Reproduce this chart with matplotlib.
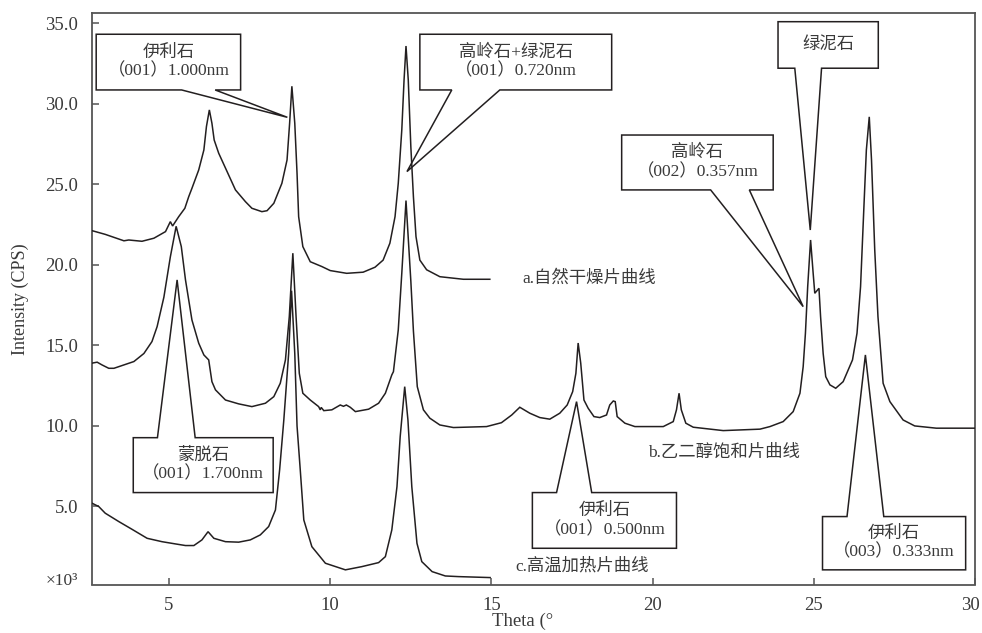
import matplotlib
matplotlib.use("Agg")
import matplotlib.pyplot as plt
import matplotlib.transforms as mtransforms
from matplotlib.patches import Polygon

# ---------------- data ----------------
theta_a = [2.61, 3.02, 3.60, 3.75, 4.16, 4.53, 4.89, 5.04, 5.11, 5.30, 5.49, 5.61, 5.71, 5.92,
           6.08, 6.16, 6.25, 6.33, 6.40, 6.54, 6.80, 7.06, 7.37, 7.57, 7.88, 8.04, 8.25, 8.50,
           8.66, 8.74, 8.81, 8.90, 8.97, 9.02, 9.15, 9.38, 9.74, 10.00, 10.51, 11.02, 11.39,
           11.64, 11.85, 12.01, 12.11, 12.22, 12.29, 12.35, 12.42, 12.50, 12.58, 12.66, 12.78,
           12.99, 13.40, 14.13, 14.95]
cps_a = [22.13, 21.90, 21.50, 21.55, 21.47, 21.66, 22.07, 22.69, 22.42, 23.00, 23.52, 24.24, 24.76,
         25.90, 27.14, 28.60, 29.63, 28.80, 27.76, 26.94, 25.80, 24.66, 23.93, 23.52, 23.31, 23.37,
         23.83, 25.07, 26.52, 28.80, 31.10, 28.80, 25.70, 23.00, 21.14, 20.20, 19.90, 19.65, 19.48,
         19.55, 19.86, 20.30, 21.35, 23.00, 25.07, 28.40, 31.50, 33.60, 31.50, 27.35, 24.24, 21.76,
         20.30, 19.70, 19.27, 19.11, 19.11]

theta_b = [2.61, 2.77, 2.92, 3.13, 3.29, 3.60, 3.91, 4.22, 4.47, 4.63, 4.84, 5.04, 5.22, 5.38,
           5.51, 5.71, 5.92, 6.08, 6.23, 6.33, 6.44, 6.75, 7.16, 7.57, 7.99, 8.25, 8.45, 8.61,
           8.73, 8.84, 8.94, 9.04, 9.15, 9.38, 9.64, 9.69, 9.72, 9.80, 10.05, 10.31, 10.41, 10.50,
           10.62, 10.78, 11.19, 11.50, 11.71, 11.91, 11.96, 12.11, 12.22, 12.35, 12.50, 12.58,
           12.70, 12.89, 13.09, 13.40, 13.82, 14.85, 15.31, 15.63, 15.88, 16.19, 16.50, 16.81,
           17.12, 17.35, 17.52, 17.62, 17.69, 17.77, 17.87, 18.00, 18.18, 18.36, 18.57, 18.67,
           18.78, 18.84, 18.90, 19.14, 19.45, 20.33, 20.64, 20.74, 20.82, 20.89, 21.03, 21.26,
           22.19, 23.33, 23.64, 24.05, 24.36, 24.57, 24.67, 24.74, 24.81, 24.90, 24.98, 25.03,
           25.16, 25.21, 25.29, 25.37, 25.50, 25.68, 25.91, 26.20, 26.34, 26.45, 26.55, 26.63,
           26.72, 26.79, 26.89, 26.99, 27.15, 27.36, 27.77, 28.13, 28.80, 30.00]
cps_b = [13.90, 13.96, 13.79, 13.58, 13.58, 13.79, 14.00, 14.50, 15.24, 16.17, 18.00, 20.50, 22.40,
         21.14, 19.07, 16.58, 15.14, 14.41, 14.10, 12.75, 12.24, 11.61, 11.37, 11.20, 11.41, 11.82,
         12.65, 14.10, 16.79, 20.73, 16.79, 13.27, 12.03, 11.61, 11.20, 11.00, 11.15, 10.95, 11.00,
         11.30, 11.22, 11.30, 11.16, 10.89, 11.04, 11.41, 12.03, 13.17, 13.37, 15.96, 19.50, 24.00,
         19.00, 15.90, 12.44, 11.00, 10.48, 10.06, 9.90, 9.96, 10.20, 10.68, 11.16, 10.79, 10.52,
         10.42, 10.79, 11.30, 12.13, 13.27, 15.15, 13.90, 11.61, 11.10, 10.58, 10.52, 10.68, 11.30,
         11.55, 11.51, 10.58, 10.17, 9.96, 9.96, 10.27, 11.00, 12.03, 11.00, 10.17, 9.92, 9.71,
         9.80, 9.96, 10.27, 10.89, 12.03, 13.68, 15.76, 18.65, 21.55, 19.48, 18.24, 18.55, 16.79,
         14.50, 13.06, 12.55, 12.34, 12.75, 14.10, 15.76, 18.65, 23.42, 27.14, 29.20, 26.52, 20.93,
         16.79, 12.65, 11.51, 10.37, 10.00, 9.86, 9.86]

theta_c = [2.61, 2.82, 3.02, 3.44, 3.85, 4.32, 4.78, 5.20, 5.51, 5.77, 6.02, 6.21, 6.39, 6.75,
           7.16, 7.52, 7.83, 8.09, 8.30, 8.43, 8.56, 8.71, 8.80, 8.90, 8.97, 9.07, 9.18, 9.43,
           9.85, 10.47, 10.98, 11.50, 11.71, 11.91, 12.07, 12.17, 12.31, 12.41, 12.53, 12.69,
           12.84, 13.16, 13.57, 13.98, 14.96]
cps_c = [5.20, 4.99, 4.58, 4.06, 3.58, 3.02, 2.81, 2.67, 2.57, 2.57, 2.92, 3.43, 3.02, 2.81,
         2.78, 2.92, 3.23, 3.75, 4.78, 7.27, 10.37, 14.50, 18.40, 14.50, 10.00, 7.27, 4.16, 2.50,
         1.47, 1.06, 1.26, 1.51, 1.88, 3.54, 6.23, 9.34, 12.44, 10.37, 6.23, 2.71, 1.57, 0.95,
         0.68, 0.64, 0.58]

curve_labels = ["a.自然干燥片曲线", "b.乙二醇饱和片曲线", "c.高温加热片曲线"]
x_ticks = [5, 10, 15, 20, 25, 30]
y_ticks = [5.0, 10.0, 15.0, 20.0, 25.0, 30.0, 35.0]
y_tick_labels = ["5.0", "10.0", "15.0", "20.0", "25.0", "30.0", "35.0"]

callout_texts = ["伊利石\n（001）1.000nm", "高岭石+绿泥石\n（001）0.720nm", "绿泥石",
                 "高岭石\n（002）0.357nm", "蒙脱石\n（001）1.700nm",
                 "伊利石\n（001）0.500nm", "伊利石\n（003）0.333nm"]

# ---------------- style ----------------
INK = "#231f20"
SPINE = "#555555"
TXT = "#3a3a3a"
serif_cjk = ["Liberation Serif", "Noto Sans CJK SC", "DejaVu Sans"]

fig = plt.figure(figsize=(9.82, 6.33), dpi=100)
ax = fig.add_axes([92 / 982, 1 - 584.5 / 633, (975 - 92) / 982, (584.5 - 13) / 633])

for xs, ys in [(theta_a, cps_a), (theta_b, cps_b), (theta_c, cps_c)]:
    ax.plot(xs, ys, color=INK, lw=1.1, solid_joinstyle="miter", zorder=3)

ax.set_xlim(2.61, 30.0)
ax.set_ylim(0.15, 35.65)
ax.set_xticks(x_ticks)
ax.set_xticklabels([str(t) for t in x_ticks], family=serif_cjk, fontsize=13.5, color=TXT)
ax.set_yticks(y_ticks)
ax.set_yticklabels(y_tick_labels, family=serif_cjk, fontsize=13.5, color=TXT)
ax.tick_params(axis="both", direction="in", length=5, width=1.1, color=SPINE)
ax.tick_params(axis="y", pad=10)
ax.tick_params(axis="x", pad=9)
for s in ax.spines.values():
    s.set_color(SPINE)
    s.set_linewidth(1.3)

# keep the last x tick label inside the canvas
last = ax.get_xticklabels()[-1]
last.set_transform(last.get_transform() + mtransforms.ScaledTranslation(-5 / 100, 0, fig.dpi_scale_trans))

ax.set_ylabel("Intensity (CPS)", family=serif_cjk, fontsize=13, color=TXT, labelpad=12)
fig.text(523 / 982, 1 - 621 / 633, "Theta (°", family=serif_cjk, fontsize=13.5,
         color=TXT, ha="center", va="center")
fig.text(78 / 982, 1 - 581 / 633, "×10³", family=serif_cjk, fontsize=12.5,
         color=TXT, ha="right", va="center")

# curve labels
label_pos = [(15.95, 19.19), (19.85, 8.34), (15.73, 1.26)]
for (lx, ly), lab in zip(label_pos, curve_labels):
    ax.text(lx, ly, lab, family=serif_cjk, fontsize=12.5, color=TXT,
            ha="left", va="center", zorder=4)

# callouts: box (x0, x1, y0, y1), pointer base xs, tip, side of pointer
callout_geom = [
    ((2.74, 7.22, 30.87, 34.33), (5.39, 6.43), (8.67, 29.17), "bottom"),
    ((12.78, 18.73, 30.87, 34.33), (13.77, 15.26), (12.38, 25.80), "bottom"),
    ((23.89, 27.00, 32.22, 35.11), (24.41, 25.24), (24.89, 22.17), "bottom"),
    ((19.04, 23.74, 24.66, 28.07), (21.80, 23.00), (24.67, 17.41), "bottom"),
    ((3.89, 8.23, 5.86, 9.27), (4.64, 5.81), (5.25, 19.07), "top"),
    ((16.27, 20.74, 2.40, 5.86), (17.02, 18.11), (17.64, 11.51), "top"),
    ((25.27, 29.71, 1.06, 4.37), (26.03, 27.17), (26.60, 14.41), "top"),
]
for txt, (box, (b1, b2), tip, side) in zip(callout_texts, callout_geom):
    x0, x1, y0, y1 = box
    if side == "bottom":
        verts = [(x0, y1), (x1, y1), (x1, y0), (b2, y0), tip, (b1, y0), (x0, y0)]
    else:
        verts = [(x0, y0), (x0, y1), (b1, y1), tip, (b2, y1), (x1, y1), (x1, y0)]
    ax.add_patch(Polygon(verts, closed=True, facecolor="none", edgecolor=INK,
                         lw=1.1, joinstyle="miter", zorder=5))
    ax.text((x0 + x1) / 2, (y0 + y1) / 2, txt, family=serif_cjk, fontsize=12.5,
            color=TXT, ha="center", va="center", linespacing=1.2, zorder=6,
            multialignment="center")

fig.savefig("out.png", dpi=100)
